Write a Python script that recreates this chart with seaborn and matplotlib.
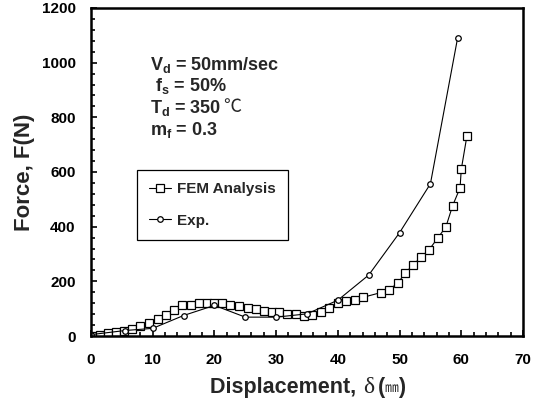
import matplotlib
matplotlib.use("Agg")
import matplotlib.pyplot as plt
import seaborn as sns
import pandas as pd
from matplotlib.ticker import MultipleLocator

fem_x = [0.2, 1.4, 2.8, 4.0, 5.4, 6.7, 8.0, 9.4, 10.8, 12.1, 13.5, 14.8, 16.2, 17.5, 18.8, 20.0,
         21.3, 22.6, 24.0, 25.4, 26.7, 28.0, 29.3, 30.5, 31.8, 33.2, 34.5, 35.8, 37.2, 38.6,
         40.0, 41.3, 42.7, 44.0, 47.0, 48.3, 49.7, 50.9, 52.1, 53.5, 54.8, 56.2, 57.5, 58.6,
         59.8, 60.0, 60.9]
fem_y = [0, 4, 10, 14, 20, 26, 35, 48, 63, 78, 94, 112, 115, 119, 121, 122,
         119, 115, 110, 102, 98, 91, 88, 88, 81, 81, 75, 78, 88, 102,
         122, 128, 133, 141, 159, 170, 193, 230, 258, 289, 316, 359, 399, 477,
         542, 610, 730]
exp_x = [0, 5.5, 10, 15, 20, 25, 30, 35, 40, 45, 50, 55, 59.4]
exp_y = [5, 20, 28, 75, 112, 69, 69, 81, 131, 223, 378, 557, 1090]

sns.set_style("ticks")
plt.rcParams['font.family'] = ['Liberation Sans', 'DejaVu Sans', 'Noto Sans CJK KR']

W, H = 542, 400
fig = plt.figure(figsize=(W / 100, H / 100), dpi=100)
ax = fig.add_axes([91 / W, 1 - 336 / H, 432 / W, 328 / H])

fem = pd.DataFrame({"x": fem_x, "y": fem_y})
exp = pd.DataFrame({"x": exp_x, "y": exp_y})

sns.lineplot(data=fem, x="x", y="y", ax=ax, sort=False, color="black", lw=0.8,
             marker="s", markersize=5.8, markerfacecolor="white", markeredgecolor="black",
             markeredgewidth=0.9, label="FEM Analysis")
sns.lineplot(data=exp, x="x", y="y", ax=ax, sort=False, color="black", lw=0.8,
             marker="o", markersize=4, markerfacecolor="white", markeredgecolor="black",
             markeredgewidth=0.9, label="Exp.")

ax.set_xlim(0, 70)
ax.set_ylim(0, 1200)
ax.xaxis.set_major_locator(MultipleLocator(10))
ax.xaxis.set_minor_locator(MultipleLocator(2))
ax.yaxis.set_major_locator(MultipleLocator(200))
ax.yaxis.set_minor_locator(MultipleLocator(40))
ax.tick_params(which="both", direction="in", width=1.2, colors="black")
ax.tick_params(which="major", length=4, labelsize=11)
ax.tick_params(axis="x", which="major", pad=12)
ax.tick_params(axis="y", which="major", pad=11)
ax.tick_params(which="minor", length=3)
for lab in ax.get_xticklabels() + ax.get_yticklabels():
    lab.set_fontweight("bold")
for s in ax.spines.values():
    s.set_linewidth(1.8)
    s.set_visible(True)
    s.set_color("black")

ax.set_xlabel("")
ax.set_ylabel("Force, F(N)", fontsize=16, fontweight="bold", labelpad=5)

# x label built from pieces (bold sans, serif delta, CJK mm sign)
t0 = fig.text(210 / W, 0.018, "Displacement, ", fontsize=15.5, fontweight="bold",
              ha="left", va="baseline")
t1 = ax.annotate("δ", xy=(1, 0), xycoords=t0, xytext=(1, 0), textcoords="offset points",
                 fontsize=17, family="Liberation Serif", ha="left", va="bottom")
t2 = ax.annotate("(", xy=(1, 0), xycoords=t1, xytext=(2, 0), textcoords="offset points",
                 fontsize=15.5, fontweight="bold", ha="left", va="bottom")
t3 = ax.annotate("㎜", xy=(1, 0), xycoords=t2, xytext=(0, 2), textcoords="offset points",
                 fontsize=10, family="Noto Sans CJK KR", ha="left", va="bottom")
t4 = ax.annotate(")", xy=(1, 0), xycoords=t3, xytext=(0, -2), textcoords="offset points",
                 fontsize=15.5, fontweight="bold", ha="left", va="bottom")
for t in (t1, t2, t3, t4):
    t.set_annotation_clip(False)

ann = [r"V$_\mathregular{d}$ = 50mm/sec", r" f$_\mathregular{s}$ = 50%",
       r"T$_\mathregular{d}$ = 350", r"m$_\mathregular{f}$ = 0.3"]
ann_y = [993, 913, 833, 754]
texts = []
for t, yv in zip(ann, ann_y):
    texts.append(ax.text(9.6, yv, t, fontsize=13, fontweight="bold", va="center", ha="left"))
ax.annotate("℃", xy=(1, 0.5), xycoords=texts[2], xytext=(1, 1), textcoords="offset points",
            fontsize=13, family="Noto Sans CJK KR", fontweight="light", ha="left", va="center")

leg = ax.legend(loc="upper left", bbox_to_anchor=((137 - 91) / 432, 1 - (170 - 8) / 328),
                borderaxespad=0, frameon=True, fancybox=False,
                edgecolor="black", framealpha=1, handlelength=1.4, labelspacing=1.15,
                borderpad=0.8, handletextpad=0.45, prop={"weight": "bold", "size": 11})
leg.get_frame().set_linewidth(0.9)

fig.savefig("out.png", dpi=100)
